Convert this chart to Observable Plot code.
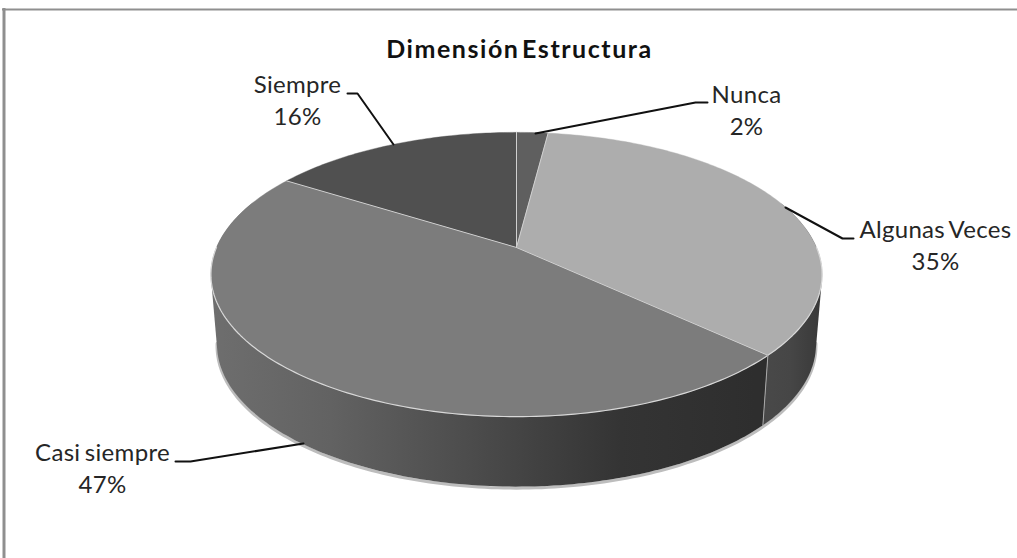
<!DOCTYPE html>
<html lang="es">
<head>
<meta charset="utf-8">
<title>Dimensión Estructura</title>
<script src="https://cdn.jsdelivr.net/npm/d3@7"></script>
<script src="https://cdn.jsdelivr.net/npm/@observablehq/plot@0.6"></script>
<style>
  html, body { margin: 0; padding: 0; background: #fff; }
  svg { display: block; }
  .pie-title text { letter-spacing: 1.55px; word-spacing: -5px; }
  .pie-label text { letter-spacing: 0.3px; word-spacing: -2px; }
</style>
</head>
<body>
<div id="chart"></div>
<script>
// Survey answers, clockwise from twelve o'clock
const categories = ["Nunca", "Algunas Veces", "Casi siempre", "Siempre"];
const percentages = [2, 35, 47, 16];

// Greys of the top face of each slice
const topGreys = ["#5f5f5f", "#adadad", "#7c7c7c", "#505050"];

// Horizontal shading of the visible walls: [x, grey]
const wallStops = {
  "Algunas Veces": [[755, "#4a4a4a"], [790, "#464646"], [822, "#383838"]],
  "Casi siempre": [[212, "#6e6e6e"], [330, "#626262"], [470, "#4c4c4c"], [620, "#343434"], [755, "#2e2e2e"]]
};

// Perspective disc: apex position, scale factors, foreshortening, wall height
const W = 1017, H = 558;
const apex = {x: 516, y: 247};
const scaleX = 300, scaleY = 137, tilt = 0.19, wall = 70, floorShrink = 0.98;

const project = (deg, drop = 0) => {
  const a = deg * Math.PI / 180;
  const px = Math.sin(a), py = -Math.cos(a);
  const w = 1 - tilt * py;
  const shrink = drop ? floorShrink : 1;
  return {x: apex.x + shrink * scaleX * px / w, y: apex.y + scaleY * py / w + drop};
};

// Cumulative start and end angles for each slice
let running = 0;
const slices = categories.map((name, i) => {
  const start = running * 3.6;
  running += percentages[i];
  return {name, value: percentages[i], start, end: running * 3.6, grey: topGreys[i]};
});

const arcAngles = (start, end, step = 1) => {
  const n = Math.max(2, Math.ceil((end - start) / step));
  return d3.range(n + 1).map((k) => start + (end - start) * k / n);
};

// Top faces: apex plus rim
const faces = slices.flatMap((s) => [
  {...apex, id: s.name, fill: s.grey},
  ...arcAngles(s.start, s.end).map((a) => ({...project(a), id: s.name, fill: s.grey}))
]);

// Each wall is the hull of its rim and floor arcs, which gives straight tangent
// sides; walls run past the widest point of the rim and the top faces hide the excess
const wallFrom = 70, wallTo = 290;
const wallPath = (s) => {
  const from = Math.max(s.start, wallFrom), to = Math.min(s.end, wallTo);
  const pts = arcAngles(from, to).flatMap((a) => [project(a), project(a, wall)]);
  return d3.polygonHull(pts.map((p) => [p.x, p.y])).map(([x, y]) => ({x, y}));
};
const wallSlices = slices.filter((s) => wallStops[s.name]);
const gradientId = (s) => `wall-${categories.indexOf(s.name)}`;

// Horizontal gradients for the walls, in the same coordinates as the x scale
const wallGradients = () => {
  const defs = d3.create("svg:defs");
  for (const s of wallSlices) {
    const stops = wallStops[s.name];
    const x0 = stops[0][0], x1 = stops[stops.length - 1][0];
    const g = defs.append("linearGradient")
      .attr("id", gradientId(s))
      .attr("gradientUnits", "userSpaceOnUse")
      .attr("x1", x0).attr("x2", x1).attr("y1", 0).attr("y2", 0);
    for (const [x, c] of stops) {
      g.append("stop").attr("offset", (x - x0) / (x1 - x0)).attr("stop-color", c);
    }
  }
  return defs.node();
};

// Soft rim below the wall
const shadowLine = arcAngles(100, 260).map((a) => project(a, wall + 1.5));

// Pale seams along the rim and the slice edges
const rimLine = arcAngles(wallFrom + 20, wallTo - 20).map((a) => project(a));
const seams = slices.flatMap((s) => [
  {...apex, id: s.name},
  {...project(s.start), id: s.name}
]);
const wallSeam = [project(slices[1].end), project(slices[1].end, wall)];

// Leader lines: rim anchor, elbow, end beside the label
const leaders = [
  {id: "Nunca", pts: [[535, 133], [695, 102], [707, 102]]},
  {id: "Algunas Veces", pts: [[785, 207], [842, 238], [853, 238]]},
  {id: "Casi siempre", pts: [[303, 443], [190, 461], [175, 461]]},
  {id: "Siempre", pts: [[393, 144], [357, 93], [347, 93]]}
].flatMap((l) => l.pts.map(([x, y]) => ({x, y, id: l.id})));

// Label centres, two lines per slice
const labelPos = {
  "Nunca": [746, 95],
  "Algunas Veces": [935, 230],
  "Casi siempre": [102, 453],
  "Siempre": [297, 85]
};
const labels = slices.flatMap((s) => {
  const [x, y] = labelPos[s.name];
  return [
    {x, y, text: s.name},
    {x, y: y + 32, text: `${s.value}%`}
  ];
});

const font = "Lato, 'Open Sans', sans-serif";

const chart = Plot.plot({
  width: W,
  height: H,
  margin: 0,
  x: {domain: [0, W], range: [0, W], axis: null},
  y: {domain: [0, H], range: [0, H], axis: null},
  color: {type: "identity"},
  marks: [
    wallGradients,

    // chart border, left and top sides only
    Plot.ruleX([3.5], {stroke: "#8f8f8f", strokeWidth: 3, y1: 8, y2: H}),
    Plot.ruleY([9], {stroke: "#8f8f8f", strokeWidth: 2, x1: 2, x2: W}),

    Plot.line(shadowLine, {x: "x", y: "y", stroke: "#bdbdbd", strokeWidth: 3}),

    wallSlices.map((s) =>
      Plot.line(wallPath(s), {x: "x", y: "y", fill: `url(#${gradientId(s)})`, curve: "linear-closed"})
    ),
    Plot.line(faces, {x: "x", y: "y", z: "id", fill: "fill", stroke: "fill", strokeWidth: 0.4, curve: "linear-closed"}),

    Plot.line(rimLine, {x: "x", y: "y", stroke: "#d8d8d8", strokeWidth: 1.2}),
    Plot.line(seams, {x: "x", y: "y", z: "id", stroke: "#d0d0d0", strokeWidth: 1}),
    Plot.line(wallSeam, {x: "x", y: "y", stroke: "#a8a8a8", strokeWidth: 1}),

    Plot.line(leaders, {x: "x", y: "y", z: "id", stroke: "#111", strokeWidth: 2}),

    Plot.text(labels, {x: "x", y: "y", text: "text", fontFamily: font, fontSize: 24, fill: "#262626", className: "pie-label"}),
    Plot.text(["Dimensión Estructura"], {x: () => 519, y: () => 49, text: (d) => d, fontFamily: font, fontSize: 25, fontWeight: 700, fill: "#111", className: "pie-title"})
  ]
});
document.getElementById("chart").append(chart);
</script>
</body>
</html>
